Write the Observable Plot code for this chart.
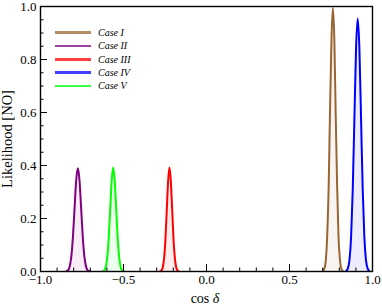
<!DOCTYPE html>
<html>
<head>
<meta charset="utf-8">
<script src="https://cdn.jsdelivr.net/npm/d3@7"></script>
<script src="https://cdn.jsdelivr.net/npm/@observablehq/plot@0.6"></script>
<style>
  html, body { margin: 0; padding: 0; background: #fff; }
  #wrap { position: relative; width: 382px; height: 306px; }
  #wrap svg text { font-family: "Liberation Serif", "DejaVu Serif", serif !important; }
  #legend { position: absolute; left: 55px; top: 26px; font-family: "Liberation Serif", "DejaVu Serif", serif; font-style: italic; font-size: 10px; }
  .row { display: flex; align-items: center; height: 13.3px; }
  .sw { width: 36px; height: 2.6px; margin-right: 7px; }
</style>
</head>
<body>
<div id="wrap"><div id="legend"></div></div>
<script>
// ---- data ----
const caseNames = ["Case I", "Case II", "Case III", "Case IV", "Case V"];
const caseColors = ["#996633", "#800080", "#ff0000", "#0000ff", "#00ff00"];

const caseIx = [0.702, 0.710, 0.719, 0.727, 0.736, 0.744, 0.753, 0.761, 0.770, 0.778, 0.787, 0.795, 0.804, 0.812, 0.821];
const caseIy = [0.002, 0.011, 0.044, 0.135, 0.323, 0.603, 0.878, 0.995, 0.878, 0.603, 0.323, 0.135, 0.044, 0.011, 0.002];

const caseIIx = [-0.845, -0.835, -0.825, -0.815, -0.805, -0.795, -0.785, -0.775, -0.765, -0.755, -0.745, -0.735, -0.725, -0.715, -0.705];
const caseIIy = [0.001, 0.004, 0.017, 0.053, 0.127, 0.237, 0.344, 0.390, 0.344, 0.237, 0.127, 0.053, 0.017, 0.004, 0.001];

const caseIIIx = [-0.279, -0.271, -0.263, -0.255, -0.247, -0.239, -0.231, -0.223, -0.215, -0.207, -0.199, -0.191, -0.183, -0.175, -0.167];
const caseIIIy = [0.001, 0.004, 0.017, 0.053, 0.127, 0.237, 0.344, 0.392, 0.344, 0.237, 0.127, 0.053, 0.017, 0.004, 0.001];

const caseIVx = [0.841, 0.851, 0.861, 0.871, 0.881, 0.891, 0.901, 0.911, 0.921, 0.931, 0.941, 0.951, 0.961, 0.971, 0.981];
const caseIVy = [0.002, 0.011, 0.042, 0.129, 0.310, 0.579, 0.843, 0.955, 0.843, 0.579, 0.310, 0.129, 0.042, 0.011, 0.002];

const caseVx = [-0.625, -0.616, -0.607, -0.598, -0.589, -0.580, -0.571, -0.562, -0.553, -0.544, -0.535, -0.526, -0.517, -0.508, -0.499];
const caseVy = [0.001, 0.004, 0.017, 0.053, 0.127, 0.237, 0.344, 0.392, 0.344, 0.237, 0.127, 0.053, 0.017, 0.004, 0.001];

const xMajor = [-1, -0.5, 0, 0.5, 1];
const xMinor = [-0.9, -0.8, -0.7, -0.6, -0.4, -0.3, -0.2, -0.1, 0.1, 0.2, 0.3, 0.4, 0.6, 0.7, 0.8, 0.9];
const yMajor = [0, 0.2, 0.4, 0.6, 0.8, 1.0];
const yMinor = [0.05, 0.1, 0.15, 0.25, 0.3, 0.35, 0.45, 0.5, 0.55, 0.65, 0.7, 0.75, 0.85, 0.9, 0.95];

// ---- build table ----
const seriesX = [caseIx, caseIIx, caseIIIx, caseIVx, caseVx];
const seriesY = [caseIy, caseIIy, caseIIIy, caseIVy, caseVy];
const rows = [];
caseNames.forEach((name, i) => {
  seriesX[i].forEach((x, j) => rows.push({name, x, y: seriesY[i][j]}));
});

const serif = "Liberation Serif, DejaVu Serif, serif";
const fmt = d => d3.format(".1f")(d);

const marks = [];
caseNames.forEach((name, i) => {
  const data = rows.filter(r => r.name === name);
  marks.push(Plot.areaY(data, {x: "x", y: "y", fill: caseColors[i], fillOpacity: 0.07, curve: "monotone-x"}));
  marks.push(Plot.lineY(data, {x: "x", y: "y", stroke: caseColors[i], strokeWidth: 2, curve: "monotone-x"}));
});

const chart = Plot.plot({
  width: 382,
  height: 306,
  marginLeft: 40,
  marginRight: 10,
  marginTop: 6,
  marginBottom: 35,
  style: {fontFamily: serif, background: "white"},
  x: {domain: [-1, 1]},
  y: {domain: [0, 1]},
  marks: [
    ...marks,
    Plot.axisX(xMinor, {tickSize: -3.5, text: null, stroke: "black", strokeWidth: 1, label: null}),
    Plot.axisX(xMajor, {tickSize: -7, text: null, stroke: "black", strokeWidth: 1, label: null}),
    Plot.axisX(xMajor, {tickSize: 0, tickPadding: 3, tickFormat: fmt, fontSize: 13, fill: "black", label: null}),
    Plot.axisY(yMinor, {tickSize: -3.5, text: null, stroke: "black", strokeWidth: 1, label: null}),
    Plot.axisY(yMajor, {tickSize: -7, text: null, stroke: "black", strokeWidth: 1, label: null}),
    Plot.axisY(yMajor, {tickSize: 0, tickPadding: 4, tickFormat: fmt, fontSize: 13, fill: "black", label: null}),
    Plot.frame({stroke: "black", strokeWidth: 1.4})
  ]
});

document.getElementById("wrap").insertBefore(chart, document.getElementById("legend"));

// axis titles
const svg = d3.select(chart);
const xt = svg.append("text")
  .attr("x", 205).attr("y", 303)
  .attr("text-anchor", "middle")
  .attr("font-size", 14).attr("fill", "black");
xt.append("tspan").text("cos ");
xt.append("tspan").attr("font-style", "italic").text("δ");

svg.append("text")
  .attr("transform", "translate(12,139) rotate(-90)")
  .attr("text-anchor", "middle")
  .attr("font-size", 14.5).attr("fill", "black")
  .text("Likelihood [NO]");

// legend
const legend = d3.select("#legend");
caseNames.forEach((name, i) => {
  const r = legend.append("div").attr("class", "row");
  r.append("div").attr("class", "sw").style("background", caseColors[i]).style("opacity", 0.75);
  r.append("span").text(name);
});
</script>
</body>
</html>
